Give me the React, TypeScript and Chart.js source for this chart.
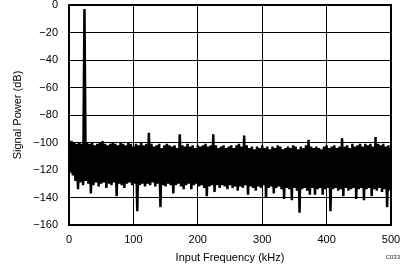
import { useEffect, useRef } from "react";
import { Chart, registerables } from "chart.js";

Chart.register(...registerables);

// FFT bin spacing used for the read-off envelope samples (kHz)
const BIN_KHZ = 4;

// Upper edge of the spectrum at f = 0, 4, 8, ... 500 kHz (dB); fundamental near 24 kHz
const upperDb = [
  -98, -99, -100, -101, -100, -101, -3, -100, -101, -100,
  -102, -101, -100, -99, -101, -102, -101, -100, -101, -102,
  -100, -101, -102, -100, -101, -103, -101, -102, -100, -102,
  -101, -93, -101, -103, -102, -101, -104, -102, -101, -102,
  -103, -102, -104, -94, -102, -103, -101, -103, -102, -104,
  -102, -103, -102, -101, -103, -102, -94, -102, -104, -103,
  -102, -104, -103, -102, -104, -102, -101, -103, -95, -102,
  -104, -103, -105, -103, -104, -102, -104, -103, -105, -103,
  -104, -102, -103, -105, -104, -103, -104, -102, -103, -105,
  -103, -104, -102, -98, -103, -104, -103, -104, -105, -103,
  -102, -104, -103, -102, -104, -103, -97, -103, -102, -104,
  -101, -103, -102, -101, -103, -101, -102, -101, -103, -96,
  -101, -102, -101, -103, -102, -104,
];

// Lower edge of the spectrum at f = 2, 6, 10, ... 498 kHz (dB)
const lowerDb = [
  -122, -124, -128, -134, -129, -131, -128, -130, -137, -131,
  -129, -132, -130, -129, -133, -130, -131, -129, -139, -130,
  -131, -133, -130, -129, -131, -130, -150, -131, -130, -132,
  -130, -131, -129, -132, -130, -147, -131, -132, -130, -131,
  -137, -131, -130, -132, -134, -131, -130, -134, -131, -130,
  -132, -131, -133, -139, -132, -131, -136, -131, -133, -131,
  -132, -134, -131, -133, -132, -135, -132, -133, -131, -138,
  -132, -133, -135, -132, -133, -131, -140, -133, -132, -137,
  -133, -132, -134, -141, -133, -134, -142, -133, -135, -151,
  -134, -133, -135, -138, -133, -138, -134, -133, -138, -134,
  -133, -150, -134, -133, -135, -134, -139, -133, -135, -134,
  -133, -141, -134, -133, -142, -134, -133, -139, -134, -135,
  -133, -136, -134, -147, -135,
];

const X_MIN = 0;
const X_MAX = 500;
const X_STEP = 100;
const Y_MIN = -160;
const Y_MAX = 0;
const Y_STEP = 20;

const X_TITLE = "Input Frequency (kHz)";
const Y_TITLE = "Signal Power (dB)";
const FIG_ID = "C033";

const FONT = "'Liberation Sans', Arial, Helvetica, sans-serif";

export default function App() {
  const ref = useRef<HTMLCanvasElement | null>(null);

  useEffect(() => {
    if (!ref.current) return;
    const pts: { x: number; y: number }[] = [];
    upperDb.forEach((u, i) => {
      pts.push({ x: i * BIN_KHZ, y: u });
      if (i < lowerDb.length) pts.push({ x: i * BIN_KHZ + BIN_KHZ / 2, y: lowerDb[i] });
    });

    const framePlugin = {
      id: "frame",
      afterDatasetsDraw(chart: any) {
        const { ctx, chartArea: a } = chart;
        ctx.save();
        ctx.strokeStyle = "#000";
        ctx.lineWidth = 2;
        ctx.strokeRect(a.left, a.top, a.right - a.left, a.bottom - a.top);
        ctx.restore();
      },
      afterDraw(chart: any) {
        const { ctx } = chart;
        ctx.save();
        ctx.fillStyle = "#222";
        ctx.font = `6px ${FONT}`;
        ctx.textAlign = "right";
        ctx.textBaseline = "middle";
        ctx.fillText(FIG_ID, 400, 257);
        ctx.restore();
      },
    };

    const chart = new Chart(ref.current, {
      type: "line",
      data: {
        datasets: [
          {
            data: pts,
            borderColor: "#000",
            borderWidth: 2.5,
            pointRadius: 0,
            tension: 0,
            fill: false,
            borderJoinStyle: "bevel",
          },
        ],
      },
      options: {
        responsive: false,
        animation: false,
        events: [],
        layout: { padding: { top: 5, right: 15, left: 0, bottom: 0 } },
        plugins: { legend: { display: false }, tooltip: { enabled: false } },
        scales: {
          x: {
            type: "linear",
            min: X_MIN,
            max: X_MAX,
            ticks: {
              stepSize: X_STEP,
              padding: 8,
              maxRotation: 0,
              color: "#000",
              font: { family: FONT, size: 11 },
            },
            grid: { color: "#000", lineWidth: 1, drawTicks: false },
            border: { display: false },
            title: {
              display: true,
              text: X_TITLE,
              color: "#000",
              font: { family: FONT, size: 11 },
              padding: { top: 0, bottom: 1 },
            },
            afterFit(s: any) {
              s.height = 41;
              s.paddingLeft = 0;
              s.paddingRight = 0;
            },
          },
          y: {
            type: "linear",
            min: Y_MIN,
            max: Y_MAX,
            ticks: {
              stepSize: Y_STEP,
              padding: 11,
              color: "#000",
              font: { family: FONT, size: 11 },
              callback: (v: any) => String(v).replace("-", "\u2212"),
            },
            grid: { color: "#000", lineWidth: 1, drawTicks: false },
            border: { display: false },
            title: {
              display: true,
              text: Y_TITLE,
              color: "#000",
              font: { family: FONT, size: 11 },
              padding: { top: 11, bottom: 0 },
            },
            afterFit(s: any) {
              s.width = 69;
              s.paddingTop = 0;
              s.paddingBottom = 0;
            },
          },
        },
      },
      plugins: [framePlugin],
    });
    return () => chart.destroy();
  }, []);

  return (
    <div style={{ position: "absolute", left: 0, top: 0, width: 406, height: 266, background: "#fff" }}>
      <canvas ref={ref} width={406} height={266} style={{ display: "block", width: 406, height: 266 }} />
    </div>
  );
}
